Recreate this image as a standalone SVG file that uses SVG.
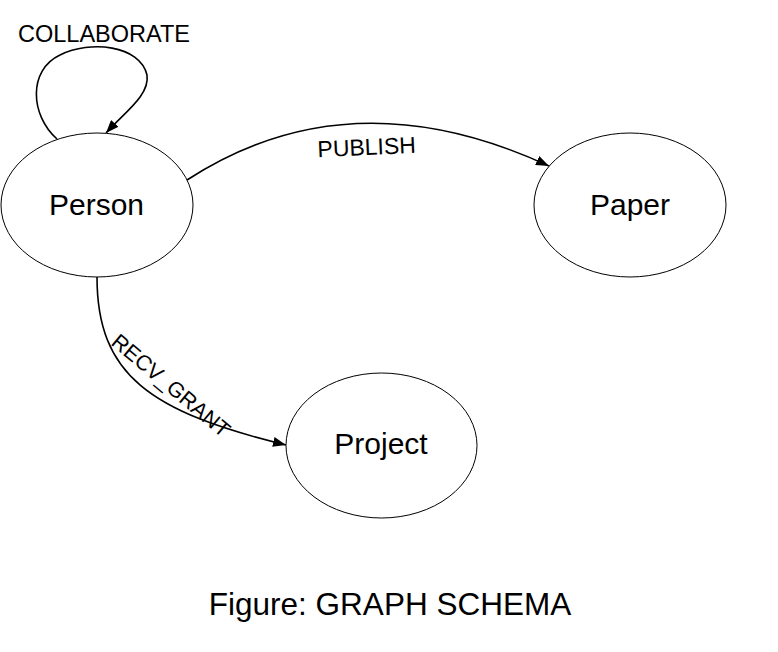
<svg xmlns="http://www.w3.org/2000/svg" width="778" height="652" viewBox="0 0 778 652">
<style>
.node{fill:#fff;stroke:#000;stroke-width:1}
.edge{fill:none;stroke:#000;stroke-width:1.6}
.nlab{font-family:"Liberation Sans",Arial,sans-serif;font-size:30px;fill:#000;text-anchor:middle}
.elab{font-family:"Liberation Sans",Arial,sans-serif;fill:#000}
</style>
<defs>
<marker id="arr" markerUnits="userSpaceOnUse" markerWidth="14" markerHeight="10" refX="13" refY="5" orient="auto">
<path d="M0,0 L13,5 L0,10 z" fill="#000"/>
</marker>
</defs>
<g id="edges">
<path class="edge" d="M57,139 C30,115 28,70 60,55 C90,40 140,45 147,75 C150,95 125,112 106,133" marker-end="url(#arr)"/>
<path class="edge" d="M187,180 Q350,74 549,166" marker-end="url(#arr)"/>
<path class="edge" d="M97,277 C97,375 150,412 286,445" marker-end="url(#arr)"/>
<text class="elab" x="18" y="42" font-size="23.5">COLLABORATE</text>
<text class="elab" x="367" y="155" font-size="23" text-anchor="middle" transform="rotate(-2.5 367 155)">PUBLISH</text>
<text class="elab" x="110" y="344" font-size="21.5" transform="rotate(40 110 344)">RECV_GRANT</text>
</g>
<g id="person">
<ellipse class="node" cx="97" cy="205" rx="96" ry="72"/>
<text class="nlab" x="96.5" y="215">Person</text>
</g>
<g id="paper">
<ellipse class="node" cx="630" cy="205" rx="96" ry="72"/>
<text class="nlab" x="630" y="215">Paper</text>
</g>
<g id="project">
<ellipse class="node" cx="381.5" cy="445.5" rx="95.5" ry="72.5"/>
<text class="nlab" x="381" y="454">Project</text>
</g>
<text class="elab" x="390" y="615" font-size="31.5" text-anchor="middle">Figure: GRAPH SCHEMA</text>
</svg>
